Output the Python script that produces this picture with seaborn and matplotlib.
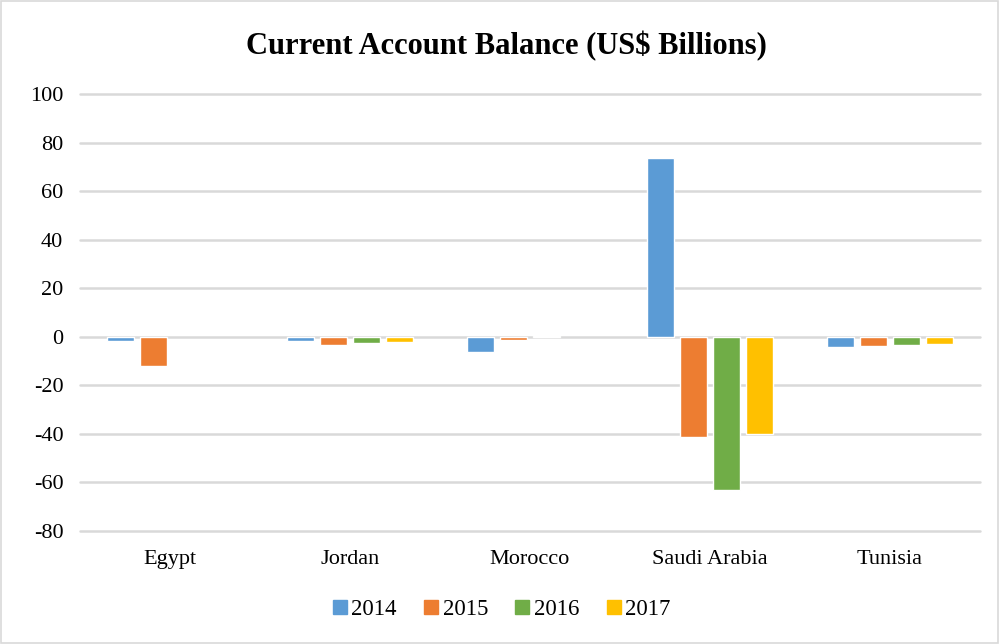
import matplotlib
matplotlib.use("Agg")
import matplotlib.pyplot as plt
import seaborn as sns
import pandas as pd
import numpy as np
from matplotlib.patches import Rectangle

countries = ["Egypt", "Jordan", "Morocco", "Saudi Arabia", "Tunisia"]
years = ["2014", "2015", "2016", "2017"]
v2014 = [-1.9, -1.9, -6.1, 73.8, -4.2]
v2015 = [-12.0, -3.2, -1.3, -41.4, -3.8]
v2016 = [np.nan, -2.4, 0.2, -63.2, -3.2]
v2017 = [np.nan, -2.1, np.nan, -40.1, -2.9]
colors = ["#5B9BD5", "#ED7D31", "#70AD47", "#FFC000"]

rows = []
for y, vals in zip(years, [v2014, v2015, v2016, v2017]):
    for c, v in zip(countries, vals):
        rows.append({"Country": c, "Year": y, "Value": v})
df = pd.DataFrame(rows)

sns.set_theme(style="white")
plt.rcParams["font.family"] = ["Liberation Serif", "DejaVu Serif"]
plt.rcParams["axes.unicode_minus"] = False
plt.rcParams["text.color"] = "black"

fig = plt.figure(figsize=(9.99, 6.44), dpi=100)
ax = fig.add_axes([0.080, 0.1755, 0.901, 0.6785])

sns.barplot(data=df, x="Country", y="Value", hue="Year", hue_order=years,
            order=countries, palette=colors, width=0.733, gap=0.2,
            errorbar=None, ax=ax, zorder=3, saturation=1)

ax.set_ylim(-80, 100)
ax.set_xlim(-0.5, 4.5)
ax.set_yticks(range(-80, 101, 20))
ax.yaxis.grid(True, color="#d9d9d9", linewidth=1.8, zorder=0)
for gl in ax.get_ygridlines():
    gl.set_clip_on(False)
ax.set_axisbelow(True)
for s in ax.spines.values():
    s.set_visible(False)
ax.set_xlabel("")
ax.set_ylabel("")
ax.tick_params(axis="both", length=0, labelsize=16, colors="black")
ax.tick_params(axis="x", pad=14)
ax.tick_params(axis="y", pad=12)

ax.legend_.remove()
handles = [plt.Line2D([], [], marker="s", linestyle="", color=c, markersize=10) for c in colors]
fig.legend(handles, years, loc="center", bbox_to_anchor=(0.5, 0.054), ncol=4,
           frameon=False, fontsize=16.5, handletextpad=0.0, columnspacing=1.0,
           handlelength=1.0)

fig.text(0.507, 0.928, "Current Account Balance (US$ Billions)", ha="center", va="center",
         fontsize=22, fontweight="bold", color="black")

fig.patches.append(Rectangle((0.0015, 0.002), 0.997, 0.996, transform=fig.transFigure,
                             fill=False, edgecolor="#d9d9d9", linewidth=1.2))

fig.savefig("out.png", dpi=100)
